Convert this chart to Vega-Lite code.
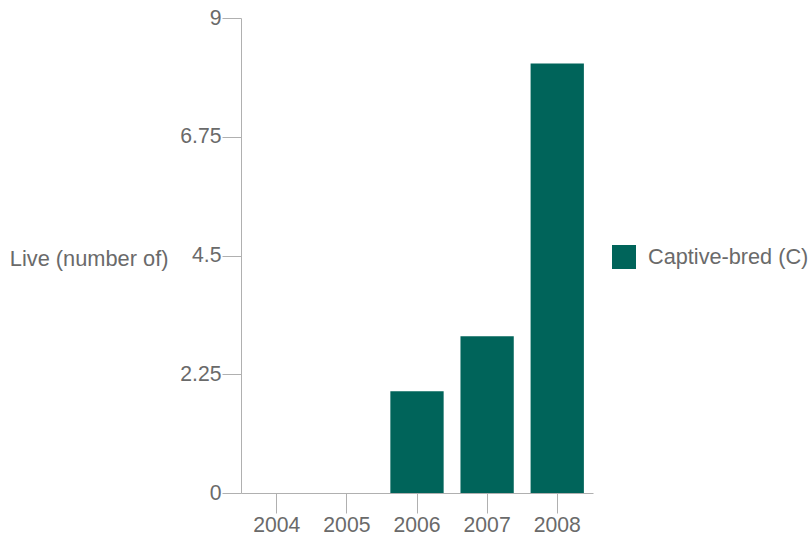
{
  "$schema": "https://vega.github.io/schema/vega-lite/v6.json",
  "width": 352,
  "height": 475,
  "autosize": "none",
  "padding": {"left": 241, "top": 18, "right": 219, "bottom": 44},
  "background": "white",
  "config": {
    "view": {"stroke": null},
    "font": "Liberation Sans"
  },
  "data": {
    "values": [
      {"year": "2004", "live": 0, "source": "Captive-bred (C)"},
      {"year": "2005", "live": 0, "source": "Captive-bred (C)"},
      {"year": "2006", "live": 1.93, "source": "Captive-bred (C)"},
      {"year": "2007", "live": 2.97, "source": "Captive-bred (C)"},
      {"year": "2008", "live": 8.14, "source": "Captive-bred (C)"}
    ]
  },
  "mark": {"type": "bar"},
  "encoding": {
    "x": {
      "field": "year",
      "type": "nominal",
      "sort": null,
      "scale": {"paddingInner": 0.24, "paddingOuter": 0.13},
      "axis": {
        "title": null,
        "labelAngle": 0,
        "labelFontSize": 21.2,
        "labelColor": "#6a6a6a",
        "labelPadding": 1,
        "tickSize": 20,
        "tickColor": "#b0b0b0",
        "domainColor": "#b0b0b0",
        "labelFont": "Liberation Sans"
      }
    },
    "y": {
      "field": "live",
      "type": "quantitative",
      "scale": {"domain": [0, 9], "nice": false},
      "axis": {
        "values": [0, 2.25, 4.5, 6.75, 9],
        "format": ".2~f",
        "grid": false,
        "title": "Live (number of)",
        "titleAngle": 0,
        "titleAlign": "right",
        "titleBaseline": "middle",
        "titleX": -73,
        "titleY": 240,
        "titleFontSize": 21.8,
        "titleFontWeight": "normal",
        "titleColor": "#6a6a6a",
        "titleFont": "Liberation Sans",
        "labelFontSize": 21.2,
        "labelColor": "#6a6a6a",
        "labelPadding": 1,
        "labelFont": "Liberation Sans",
        "tickSize": 19,
        "tickColor": "#b0b0b0",
        "domainColor": "#b0b0b0"
      }
    },
    "color": {
      "field": "source",
      "type": "nominal",
      "scale": {"range": ["#00645a"]},
      "legend": {
        "title": null,
        "orient": "none",
        "legendX": 371,
        "legendY": 227,
        "symbolType": "square",
        "symbolSize": 576,
        "symbolStrokeWidth": 0,
        "labelFontSize": 21.7,
        "labelColor": "#6a6a6a",
        "labelFont": "Liberation Sans",
        "labelOffset": 12,
        "labelLimit": 300
      }
    }
  }
}
